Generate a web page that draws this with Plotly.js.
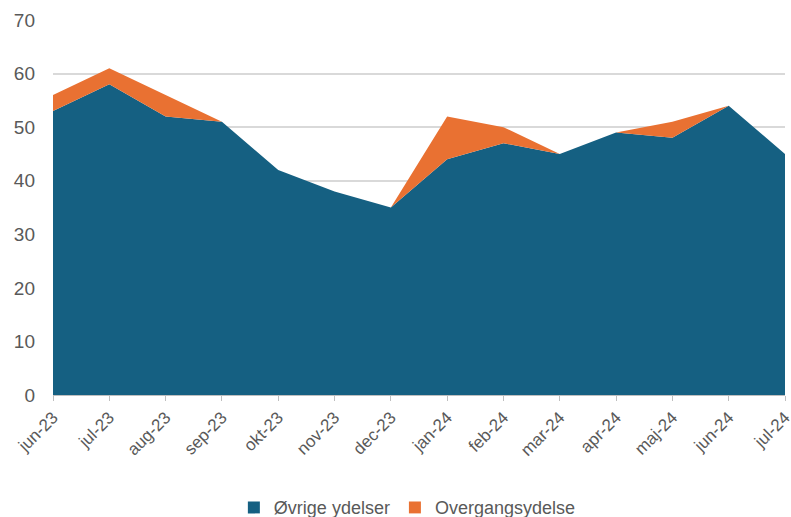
<!DOCTYPE html>
<html>
<head>
<meta charset="utf-8">
<script src="https://cdn.plot.ly/plotly-3.0.1.min.js"></script>
<style>html,body{margin:0;padding:0;background:#fff;}#chart{width:791px;height:517px;}</style>
</head>
<body>
<div id="chart"></div>
<script>
const months = ["jun-23","jul-23","aug-23","sep-23","okt-23","nov-23","dec-23","jan-24","feb-24","mar-24","apr-24","maj-24","jun-24","jul-24"];
const ovrige = [53, 58, 52, 51, 42, 38, 35, 44, 47, 45, 49, 48, 54, 45];
const overgang = [3, 3, 4, 0, 0, 0, 0, 8, 3, 0, 0, 3, 0, 0];
const yTicks = [0, 10, 20, 30, 40, 50, 60, 70];
const seriesNames = ["Øvrige ydelser", "Overgangsydelse"];
const seriesColors = ["#156082", "#E97132"];

const font = "Liberation Sans, Arial, sans-serif";
const data = [
  {x: months, y: ovrige, name: seriesNames[0], type: "scatter", mode: "none",
   stackgroup: "one", fillcolor: seriesColors[0], line: {width: 0}, showlegend: false},
  {x: months, y: overgang, name: seriesNames[1], type: "scatter", mode: "none",
   stackgroup: "one", fillcolor: seriesColors[1], line: {width: 0}, showlegend: false},
  // legend-only entries (square swatches)
  {x: [null], y: [null], name: seriesNames[0], type: "bar", marker: {color: seriesColors[0]}},
  {x: [null], y: [null], name: seriesNames[1], type: "bar", marker: {color: seriesColors[1]}}
];
const layout = {
  width: 791, height: 517,
  margin: {l: 53, r: 6, t: 20, b: 122},
  paper_bgcolor: "#fff", plot_bgcolor: "#fff",
  font: {family: font, color: "#595959"},
  showlegend: true,
  legend: {orientation: "h", x: 0.515, xanchor: "center", xref: "container",
           y: 0.018, yanchor: "middle", yref: "container",
           font: {size: 18, color: "#595959"}, traceorder: "normal", itemwidth: 30},
  xaxis: {type: "category", range: [0, months.length - 1], tickangle: -45,
          tickfont: {size: 17, color: "#595959"}, showgrid: false, automargin: false,
          showline: true, linecolor: "#bfbfbf", linewidth: 1,
          ticks: "outside", ticklen: 5, tickcolor: "#bfbfbf", zeroline: false},
  yaxis: {range: [0, 70], tickvals: yTicks, tickfont: {size: 19, color: "#595959"},
          showgrid: true, gridcolor: "#d9d9d9", gridwidth: 2, zeroline: false, automargin: false,
          showline: false, ticks: "", ticklabelstandoff: 17, fixedrange: true}
};
Plotly.newPlot("chart", data, layout, {displayModeBar: false, staticPlot: true});
</script>
</body>
</html>
